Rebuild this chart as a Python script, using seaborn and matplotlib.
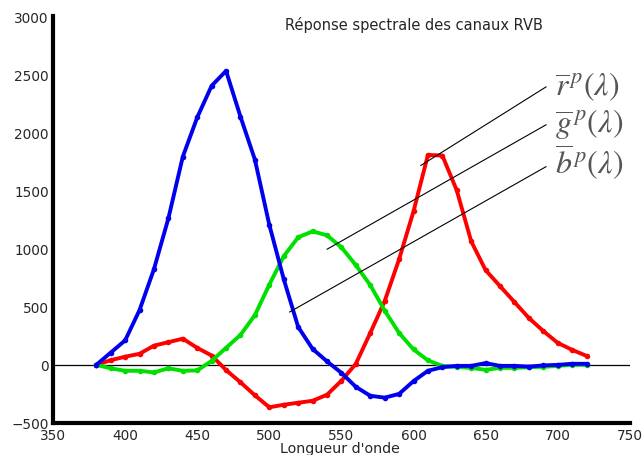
import numpy as np
import pandas as pd
import seaborn as sns
import matplotlib.pyplot as plt

# wavelengths (nm) and channel responses
wavelengths = list(range(380, 721, 10))
red = [0, 40, 70, 95, 165, 195, 225, 146, 80, -45, -150, -262, -365, -343, -326,
       -309, -257, -137, 9, 274, 548, 908, 1320, 1805, 1800, 1500, 1063, 814,
       677, 540, 403, 291, 189, 129, 77]
green = [0, -30, -51, -51, -65, -30, -51, -48, 34, 146, 257, 428, 690, 934, 1097,
         1148, 1114, 1011, 857, 686, 467, 274, 133, 38, -9, -17, -26, -43, -26,
         -26, -20, -17, -9, 0, 0]
blue = [0, 105, 210, 471, 823, 1260, 1790, 2128, 2400, 2528, 2134, 1765, 1204,
        737, 326, 137, 30, -69, -189, -266, -282, -250, -140, -51, -20, -9, -9,
        15, -9, -9, -15, -5, 0, 9, 9]

channels = ["r", "g", "b"]
colors = {"r": "#ff0000", "g": "#00e000", "b": "#0000ee"}
labels = [r"$\overline{r}^{\,p}(\lambda)$", r"$\overline{g}^{\,p}(\lambda)$",
          r"$\overline{b}^{\,p}(\lambda)$"]
# label anchor (wavelength, value) and point on the curve the leader line hits
label_pos = [(698, 2400), (698, 2074), (698, 1748)]
leader_start = [(692, 2391), (692, 2065), (692, 1705)]
leader_end = [(605, 1714), (540, 994), (514, 454)]

df = pd.DataFrame({
    "lam": wavelengths * 3,
    "val": red + green + blue,
    "canal": ["r"] * len(red) + ["g"] * len(green) + ["b"] * len(blue),
})

sns.set_style("white")
plt.rcParams["font.family"] = ["DejaVu Sans"]
plt.rcParams["mathtext.fontset"] = "stix"

fig = plt.figure(figsize=(6.42, 4.56), dpi=100)
ax = fig.add_axes([0.0826, 0.0702, 0.8984, 0.8925])

ax.axhline(0, color="black", lw=0.9, zorder=1)
sns.lineplot(data=df, x="lam", y="val", hue="canal", hue_order=channels,
             palette=colors, marker="o", markersize=4, markeredgewidth=0,
             linewidth=2.8, legend=False, ax=ax, zorder=2)

for lab, pos, s, e in zip(labels, label_pos, leader_start, leader_end):
    ax.plot([s[0], e[0]], [s[1], e[1]], color="black", lw=0.8, zorder=3)
    ax.text(pos[0], pos[1], lab, fontsize=23, color="#555555",
            ha="left", va="center")

ax.set_xlim(350, 750)
ax.set_ylim(-500, 3000)
ax.set_xticks(np.arange(350, 751, 50))
ax.set_yticks(np.arange(-500, 3001, 500))
ax.tick_params(direction="in", length=5, width=2.2, labelsize=9.8)
ax.tick_params(axis="x", pad=3.5)
ax.tick_params(axis="y", pad=3)
for side in ["top", "right"]:
    ax.spines[side].set_visible(False)
for side in ["left", "bottom"]:
    ax.spines[side].set_linewidth(3)
    ax.spines[side].set_color("black")

ax.set_xlabel("Longueur d'onde", fontsize=10.3, va="center")
ax.xaxis.set_label_coords(0.497, -0.0625)
ax.set_ylabel("")
ax.text(600, 2930, "Réponse spectrale des canaux RVB", fontsize=10.5,
        ha="center", va="center")

fig.savefig("out.png", dpi=100)
